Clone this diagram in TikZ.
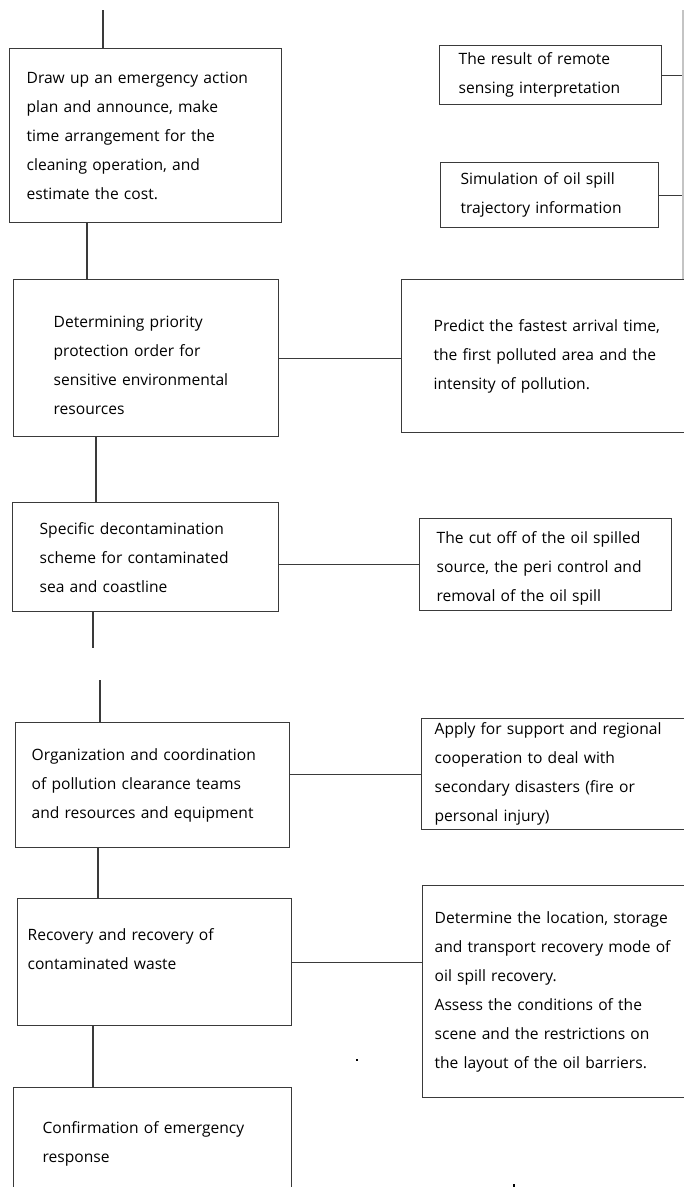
\documentclass[tikz,border=0pt]{standalone}
\usepackage{fontspec}
\setmainfont{Open Sans}
\usepackage{tikz}
\usetikzlibrary{positioning}
\usetikzlibrary{calc}
\definecolor{linegray}{HTML}{3A3A3A}
\definecolor{edgegray}{HTML}{C4C4C4}
\tikzset{every picture/.style={x=1pt,y=-1pt,line width=1.3pt},
box/.style={draw=linegray,rectangle,anchor=north west,align=left,inner ysep=0pt,font=\fontsize{15.6}{29}\selectfont}}

\begin{document}
\begin{tikzpicture}
\useasboundingbox (0,0) rectangle (684,1187);
\clip (0,0) rectangle (684,1187);

\node (s1) at (9,48) [box,minimum width=272pt,minimum height=174pt,inner xsep=17pt,text width=238pt] {Draw up an emergency action\\plan and announce, make\\time arrangement for the\\cleaning operation, and\\estimate the cost.};
\node (s2) at (13,279) [box,minimum width=265pt,minimum height=157pt,inner xsep=40pt,text width=185pt,text height=25pt] {Determining priority\\protection order for\\sensitive environmental\\resources};
\node (s3) at (12,502) [box,minimum width=266pt,minimum height=109pt,inner xsep=27pt,text width=212pt] {Specific decontamination\\scheme for contaminated\\sea and coastline};
\node (s4) at (15,722) [box,minimum width=274pt,minimum height=125pt,inner xsep=16pt,text width=242pt] {Organization and coordination\\of pollution clearance teams\\and resources and equipment};
\node (s5) at (17,898) [box,minimum width=274pt,minimum height=127pt,inner xsep=10pt,text width=254pt,text depth=56pt] {Recovery and recovery of\\contaminated waste};
\node (s6) at (13,1087) [box,minimum width=278pt,minimum height=112pt,inner xsep=29pt,text width=220pt] {Confirmation of emergency\\response};

\node (i1) at (439,45) [box,minimum width=222pt,minimum height=59pt,inner xsep=19pt,text width=184pt] {The result of remote\\sensing interpretation};
\node (i2) at (440,162) [box,minimum width=218pt,minimum height=65pt,inner xsep=20pt,text width=178pt] {Simulation of oil spill\\trajectory information};
\node (t1) at (401,279) [box,minimum width=330pt,minimum height=153pt,inner xsep=32pt,text width=266pt] {Predict the fastest arrival time,\\the first polluted area and the\\intensity of pollution.};
\node (t2) at (419,518) [box,minimum width=252pt,minimum height=92pt,inner xsep=17pt,text width=218pt,text height=20pt] {The cut off of the oil spilled\\source, the peri control and\\removal of the oil spill};
\node (t3) at (421,718) [box,minimum width=300pt,minimum height=111pt,inner xsep=13pt,text width=274pt] {Apply for support and regional\\cooperation to deal with\\secondary disasters (fire or\\personal injury)};
\node (t4) at (422,885) [box,minimum width=300pt,minimum height=212pt,inner xsep=12pt,text width=276pt] {Determine the location, storage\\and transport recovery mode of\\oil spill recovery.\\Assess the conditions of the\\scene and the restrictions on\\the layout of the oil barriers.};

\coordinate (top) at (103,10);
\coordinate (gapa) at (93,648);
\coordinate (gapb) at (100,680);
\coordinate (edge) at (683,10);

\draw [linegray] (top) -- (top |- s1.north);
\foreach \u/\l/\dx in {s1/s2/78, s2/s3/83, s4/s5/83, s5/s6/76} {
\coordinate (p) at ([xshift=\dx pt]\u.south west);
\draw [linegray] (p) -- (p |- \l.north);
}
\draw [linegray] (gapa |- s3.south) -- (gapa);
\draw [linegray] (gapb) -- (gapb |- s4.north);

\draw [linegray] (s2.east) -- (s2.east -| t1.west);
\draw [linegray] (t2.west) -- (t2.west -| s3.east);
\draw [linegray] (t3.west) -- (t3.west -| s4.east);
\draw [linegray] (s5.east) -- (s5.east -| t4.west);
\draw [linegray] (i1.east) -- (i1.east -| edge);
\draw [linegray] (i2.east) -- (i2.east -| edge);
\draw [edgegray] (edge) -- (edge |- t1.north);

%\node at (357,1060) {.};
\fill [black] (356,1059) rectangle +(2,2);
\fill [black] (513,1184) rectangle +(2,3);
\end{tikzpicture}
\end{document}
